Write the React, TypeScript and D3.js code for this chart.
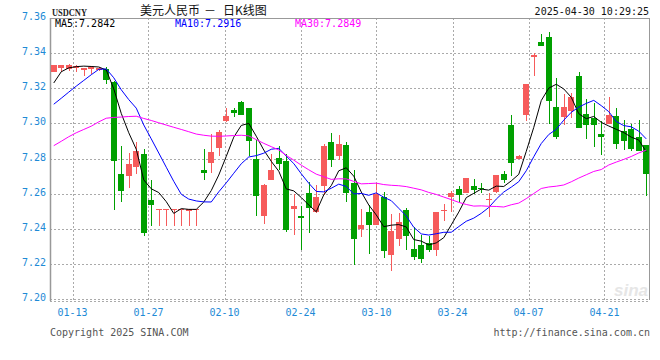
import React from "react";
import * as d3 from "d3";

// ---- data ----
const dates = [
  "01-13","01-14","01-15","01-16","01-17","01-20","01-21","01-22","01-23","01-24",
  "01-26","01-27","01-28","01-29","01-30","01-31","02-03","02-04","02-05","02-06",
  "02-07","02-08","02-10","02-11","02-12","02-13","02-14","02-17","02-18","02-19",
  "02-20","02-21","02-24","02-25","02-26","02-27","02-28","03-03","03-04","03-05",
  "03-06","03-07","03-10","03-11","03-12","03-13","03-14","03-17","03-18","03-19",
  "03-20","03-21","03-24","03-25","03-26","03-27","03-28","03-31","04-01","04-02",
  "04-03","04-04","04-07","04-08","04-09","04-10","04-11","04-14","04-15","04-16",
  "04-17","04-18","04-21","04-22","04-23","04-24","04-25","04-28","04-29","04-30",
];

const opens = [
  7.329, 7.3315, 7.331, 7.3315, 7.3305, 7.331, 7.3305, 7.331, 7.3235, 7.2713,
  7.2698, 7.2754, 7.2827, 7.2561, 7.2505, 7.2505, 7.2505, 7.2505, 7.2502, 7.2505,
  7.2732, 7.2772, 7.2857, 7.3016, 7.3075, 7.3121, 7.3087, 7.2797, 7.2474, 7.2678,
  7.2804, 7.2787, 7.2515, 7.2473, 7.2606, 7.2497, 7.2641, 7.2895, 7.2816, 7.2878,
  7.266, 7.24, 7.2497, 7.2422, 7.2578, 7.2252, 7.2343, 7.2508, 7.2285, 7.2309,
  7.2318, 7.2277, 7.25, 7.2578, 7.2626, 7.2606, 7.2641, 7.2634, 7.2565, 7.2607,
  7.2713, 7.2992, 7.2797, 7.3049, 7.3377, 7.3462, 7.3494, 7.3092, 7.3036, 7.3073,
  7.3267, 7.3053, 7.303, 7.294, 7.2995, 7.3043, 7.2954, 7.2969, 7.2925, 7.2878,
];
const highs = [
  7.3335, 7.3335, 7.334, 7.333, 7.3318, 7.3325, 7.332, 7.332, 7.324, 7.2874,
  7.2834, 7.2895, 7.2855, 7.2679, 7.2512, 7.2512, 7.2512, 7.2512, 7.2514, 7.2512,
  7.2853, 7.294, 7.2963, 7.3087, 7.3087, 7.3125, 7.309, 7.2905, 7.2652, 7.2826,
  7.287, 7.2824, 7.26, 7.253, 7.2669, 7.265, 7.288, 7.2945, 7.2935, 7.2895,
  7.2736, 7.2512, 7.2537, 7.266, 7.2607, 7.2485, 7.2489, 7.2518, 7.2412, 7.2366,
  7.236, 7.2497, 7.2542, 7.2616, 7.2644, 7.269, 7.2684, 7.2662, 7.2603, 7.2707,
  7.2726, 7.3049, 7.2818, 7.3225, 7.3403, 7.351, 7.3523, 7.3257, 7.3168, 7.3172,
  7.3295, 7.314, 7.3115, 7.3016, 7.3149, 7.309, 7.302, 7.2996, 7.302, 7.2878,
];
const lows = [
  7.329, 7.329, 7.33, 7.329, 7.327, 7.328, 7.33, 7.3225, 7.2508, 7.255,
  7.2632, 7.2711, 7.2356, 7.2418, 7.2418, 7.2418, 7.2418, 7.2418, 7.2418, 7.2418,
  7.2675, 7.272, 7.2815, 7.301, 7.3036, 7.3048, 7.2817, 7.247, 7.2428, 7.2675,
  7.2736, 7.238, 7.2362, 7.2277, 7.2374, 7.249, 7.259, 7.2754, 7.2789, 7.255,
  7.2195, 7.2353, 7.2256, 7.242, 7.2233, 7.2157, 7.2299, 7.2277, 7.2224, 7.2205,
  7.227, 7.2246, 7.2442, 7.2498, 7.2555, 7.2603, 7.26, 7.2603, 7.2467, 7.2603,
  7.266, 7.2703, 7.2795, 7.3011, 7.3267, 7.3443, 7.2997, 7.291, 7.2992, 7.303,
  7.2976, 7.2912, 7.2865, 7.282, 7.2995, 7.2853, 7.285, 7.2845, 7.2845, 7.2584,
];
const closes = [
  7.333, 7.333, 7.333, 7.3325, 7.3315, 7.332, 7.3315, 7.3245, 7.2787, 7.2616,
  7.277, 7.2845, 7.2373, 7.2533, 7.251, 7.251, 7.251, 7.251, 7.2512, 7.251,
  7.2717, 7.2838, 7.2952, 7.3043, 7.3058, 7.305, 7.2897, 7.2587, 7.265, 7.2735,
  7.277, 7.2393, 7.253, 7.2462, 7.252, 7.258, 7.2873, 7.2793, 7.2884, 7.2606,
  7.2341, 7.2423, 7.2423, 7.26, 7.2271, 7.2385, 7.244, 7.2356, 7.2239, 7.2228,
  7.2277, 7.2497, 7.2505, 7.2603, 7.2592, 7.269, 7.2618, 7.2628, 7.2571, 7.2707,
  7.2679, 7.2777, 7.2815, 7.3225, 7.339, 7.3443, 7.313, 7.2925, 7.3092, 7.3153,
  7.2976, 7.2988, 7.2988, 7.2925, 7.3048, 7.2882, 7.2897, 7.2855, 7.2845, 7.2713,
];
// closes of the 29 sessions before the first visible one (needed for the moving averages)
const priorCloses = [
  7.258, 7.255, 7.265, 7.275, 7.276, 7.258, 7.262, 7.265, 7.255, 7.268,
  7.28, 7.275, 7.288, 7.29, 7.29, 7.289, 7.288, 7.29, 7.291, 7.292,
  7.299, 7.298, 7.2985, 7.299, 7.2995, 7.301, 7.322, 7.329, 7.33,
];

const maPeriods = [5, 10, 30];
const maColors = ["#000000", "#0000ff", "#ff00ff"];
const maLegendValues = ["7.2842", "7.2916", "7.2849"];

const yTickValues = [7.2, 7.22, 7.24, 7.26, 7.28, 7.3, 7.32, 7.34, 7.36];
const xTickLabels = ["01-13", "01-27", "02-10", "02-24", "03-10", "03-24", "04-07", "04-21"];
const xTickSlots = [3, 13.13, 23.27, 33.4, 43.53, 53.67, 63.8, 73.93];

const titleParts = ["美元人民币", "－", "日K线图"];
const symbolText = "USDCNY";
const timeText = "2025-04-30 10:29:25";

// ---- layout ----
const W = 660;
const H = 360;
const L = 50, R = 650, T = 18, B = 299;
const UP = "#f65b5b";
const DOWN = "#00a000";
const MONO = "'DejaVu Sans Mono', 'Liberation Mono', monospace";
const CJK = "'Noto Sans CJK SC', sans-serif";
const AXIS_BLUE = "#1e8ad6";

export default function App() {
  const n = closes.length;
  const x = d3.scaleLinear().domain([0, n]).range([L, R]);
  const y = d3.scaleLinear().domain([7.2, 7.36]).range([B, T]);
  const all = [...priorCloses, ...closes];
  const off = priorCloses.length;

  const maSeries = maPeriods.map((p) =>
    closes.map((_, i) => d3.mean(all.slice(off + i - p + 1, off + i + 1)) as number)
  );
  const line = d3
    .line<number>()
    .x((_, i) => x(i + 0.5))
    .y((d) => y(d));

  return (
    <svg
      width={W}
      height={H}
      style={{ position: "absolute", left: 0, top: 0, background: "#fff" }}
      xmlns="http://www.w3.org/2000/svg"
    >
      <rect x={0} y={0} width={W} height={H} fill="#fff" />
      {/* header */}
      <text x={52} y={15.5} fontFamily="'Liberation Serif', serif" fontWeight="bold" fontSize={10.5} textLength={35} lengthAdjust="spacingAndGlyphs" fill="#222">
        {symbolText}
      </text>
      <text x={140} y={15} fontFamily={CJK} fontSize={12} fill="#111">{titleParts[0]}</text>
      <text x={210} y={15} textAnchor="middle" fontFamily={CJK} fontSize={12} fill="#111">{titleParts[1]}</text>
      <text x={223} y={15} fontFamily={CJK} fontSize={12} fill="#111">{titleParts[2]}</text>
      <text x={649} y={15} textAnchor="end" fontFamily={MONO} fontSize={10} fill="#111">
        {timeText}
      </text>

      {/* sina watermark */}
      <text x={648} y={296} textAnchor="end" fontFamily="'Liberation Sans', sans-serif" fontStyle="italic" fontWeight="bold" fontSize={17} fill="#e6e6e6">
        sina
      </text>

      {/* grid */}
      {yTickValues.map((v) => (
        <line key={"gy" + v} x1={L} x2={R} y1={Math.round(y(v)) + 0.5} y2={Math.round(y(v)) + 0.5}
          stroke="#aaa" strokeDasharray="2,2" />
      ))}
      {xTickSlots.map((s, k) => (
        <line key={"gx" + k} x1={Math.round(x(s)) + 0.5} x2={Math.round(x(s)) + 0.5} y1={T} y2={B + 2}
          stroke="#aaa" strokeDasharray="2,2" />
      ))}
      {/* frame */}
      <line x1={L} x2={R} y1={T + 0.5} y2={T + 0.5} stroke="#999" />
      <line x1={R - 0.5} x2={R - 0.5} y1={T} y2={B + 1} stroke="#999" />
      <line x1={L + 0.5} x2={L + 0.5} y1={T} y2={B + 2} stroke="#999" strokeWidth={1.5} />
      <line x1={L} x2={R} y1={B + 2.5} y2={B + 2.5} stroke="#aaa" strokeDasharray="2,2" />

      {/* candles */}
      <g shapeRendering="crispEdges">
        {closes.map((c, i) => {
          const o = opens[i];
          const up = c >= o;
          const col = up ? UP : DOWN;
          const cx = Math.round(x(i + 0.5));
          const yTop = y(Math.max(o, c));
          const yBot = y(Math.min(o, c));
          const bh = Math.max(1, yBot - yTop);
          return (
            <g key={"c" + i}>
              <line x1={cx + 0.5} x2={cx + 0.5} y1={y(highs[i])} y2={y(lows[i])} stroke={col} />
              <rect x={cx - 3} y={yTop} width={6} height={bh} fill={col} />
            </g>
          );
        })}
      </g>

      {/* moving averages */}
      {maSeries.map((s, k) => (
        <path key={"ma" + k} d={line(s) || ""} fill="none" stroke={maColors[k]} strokeWidth={1} />
      ))}

      {/* legend */}
      {maPeriods.map((p, k) => (
        <text key={"lg" + k} x={55 + k * 120} y={27} fontFamily={MONO} fontSize={10} fill={maColors[k]}>
          {`MA${p}:${maLegendValues[k]}`}
        </text>
      ))}

      {/* y labels */}
      {yTickValues.map((v) => (
        <text key={"yl" + v} x={46} y={y(v) + 2} textAnchor="end" fontFamily={MONO} fontSize={10} fill={AXIS_BLUE}>
          {v.toFixed(2)}
        </text>
      ))}
      {/* x labels */}
      {xTickLabels.map((lab, k) => (
        <text key={"xl" + k} x={x(xTickSlots[k])} y={316} textAnchor="middle" fontFamily={MONO} fontSize={10} fill={AXIS_BLUE}>
          {lab}
        </text>
      ))}

      {/* footer */}
      <text x={50} y={336} fontFamily={MONO} fontSize={10} fill="#555">
        Copyright 2025 SINA.COM
      </text>
      <text x={650} y={336} textAnchor="end" fontFamily={MONO} fontSize={10} fill="#555">
        http://finance.sina.com.cn
      </text>
    </svg>
  );
}
